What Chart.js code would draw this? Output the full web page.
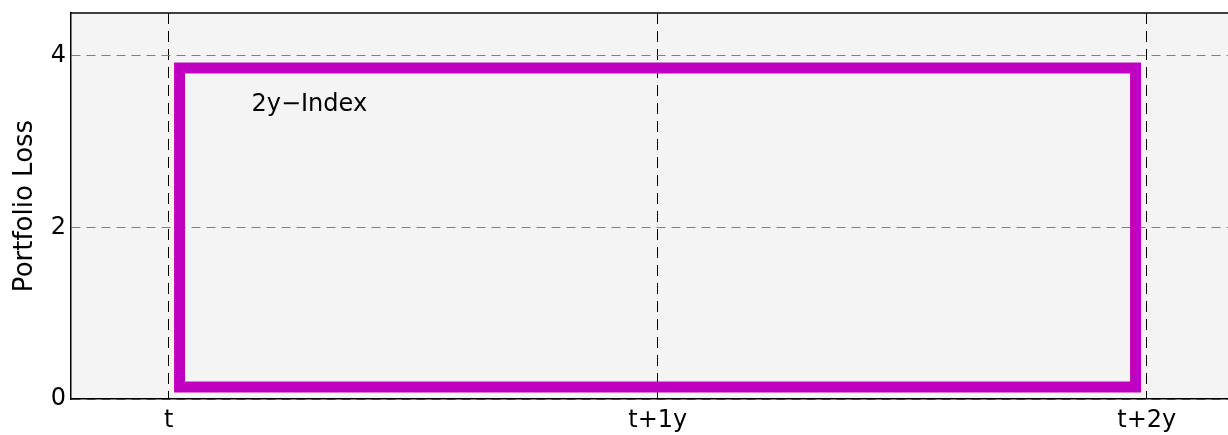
<!DOCTYPE html>
<html lang="en">
<head>
<meta charset="UTF-8">
<title>Portfolio Loss</title>
<script src="https://cdn.jsdelivr.net/npm/chart.js"></script>
<style>
body { margin: 0; background: #fff; }
</style>
</head>
<body>
<canvas id="myChart" width="1228" height="435"></canvas>
<script>
// ticks: x is years after t
const xTickValues = [0, 1, 2];
const xTickLabels = ['t', 't+1y', 't+2y'];
const yTickValues = [0, 2, 4];

// loss path of the 2y index
const lossX = [0.022, 0.022, 1.977, 1.977, 0.022];
const lossY = [0.14, 3.86, 3.86, 0.14, 0.14];

const seriesName = '2y\u2212Index';
const seriesNameX = 0.169;
const seriesNameY = 3.355;

Chart.defaults.font.family = 'DejaVu Sans';
Chart.defaults.font.size = 24;
Chart.defaults.color = '#000';

const plotFrame = {
  id: 'plotFrame',
  beforeDraw(chart) {
    const { ctx, chartArea: a } = chart;
    ctx.save();
    ctx.fillStyle = '#f4f4f4';
    ctx.fillRect(a.left, a.top, a.right - a.left, a.bottom - a.top);
    ctx.restore();
  },
  afterDraw(chart) {
    const { ctx, chartArea: a, scales } = chart;
    ctx.save();
    ctx.strokeStyle = '#000';
    ctx.lineWidth = 1.5;
    ctx.beginPath();
    ctx.moveTo(a.left, a.top);
    ctx.lineTo(a.right, a.top);
    ctx.stroke();
    // series name inside the plot
    ctx.fillStyle = '#000';
    ctx.font = '24px "DejaVu Sans"';
    ctx.textAlign = 'left';
    ctx.textBaseline = 'alphabetic';
    ctx.fillText(seriesName, scales.x.getPixelForValue(seriesNameX), scales.y.getPixelForValue(seriesNameY));
    ctx.restore();
  }
};

const ctx = document.getElementById('myChart').getContext('2d');
const myChart = new Chart(ctx, {
  type: 'line',
  data: {
    datasets: [{
      label: seriesName,
      data: lossX.map((x, i) => ({ x: x, y: lossY[i] })),
      borderColor: '#c000c0',
      borderWidth: 11,
      borderCapStyle: 'square',
      borderJoinStyle: 'miter',
      pointRadius: 0,
      fill: false,
      tension: 0
    }]
  },
  options: {
    responsive: false,
    animation: false,
    layout: { padding: { top: 13, right: 0, left: 0, bottom: 0 } },
    plugins: {
      legend: { display: false },
      tooltip: { enabled: false }
    },
    scales: {
      x: {
        type: 'linear',
        min: -0.2,
        max: 2.166,
        afterBuildTicks: s => { s.ticks = xTickValues.map(v => ({ value: v })); },
        afterFit: s => { s.height = 36; s.paddingRight = 0; },
        ticks: {
          callback: (v, i) => xTickLabels[i],
          padding: 7,
          maxRotation: 0,
          autoSkip: false
        },
        grid: { color: '#000', lineWidth: 1, drawTicks: false },
        border: { display: true, color: '#000', width: 1.5, dash: [11, 7] }
      },
      y: {
        min: 0,
        max: 4.5,
        afterBuildTicks: s => { s.ticks = yTickValues.map(v => ({ value: v })); },
        afterFit: s => { s.width = 71; s.paddingTop = 0; s.paddingBottom = 0; },
        ticks: { padding: 5 },
        grid: { color: '#808080', lineWidth: 1, drawTicks: false },
        border: { display: true, color: '#000', width: 1.5, dash: [9, 6] },
        title: {
          display: true,
          text: 'Portfolio Loss',
          font: { size: 26 },
          padding: { top: 10, bottom: 0 }
        }
      }
    }
  },
  plugins: [plotFrame]
});
</script>
</body>
</html>
